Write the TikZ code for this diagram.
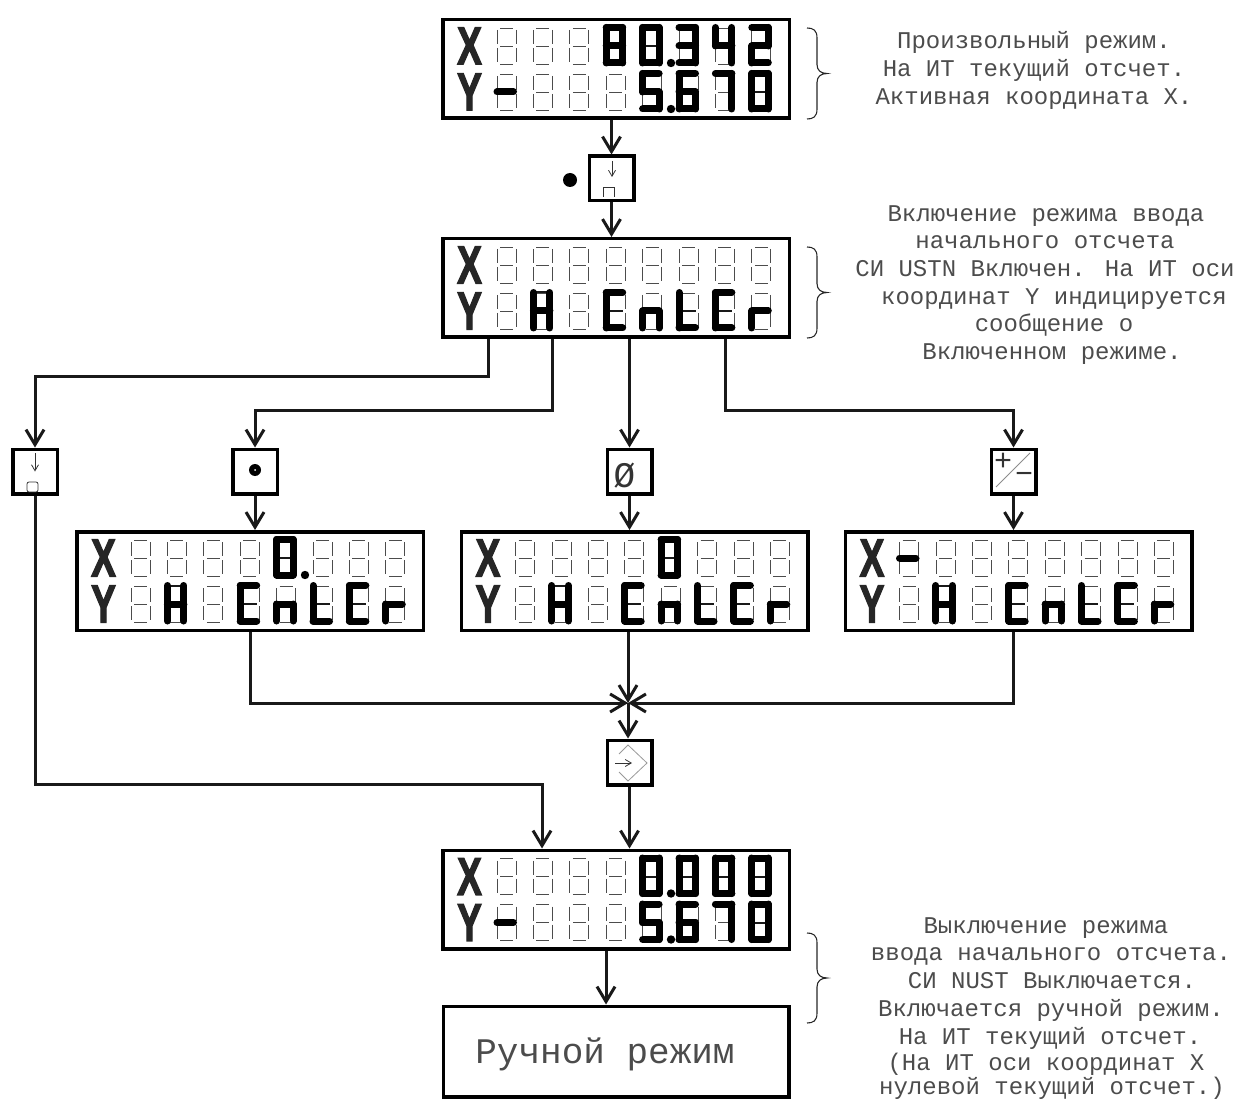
\documentclass[tikz,border=0pt]{standalone}
\usepackage{fontspec}
\usepackage{tikz}
\usetikzlibrary{arrows.meta}
\newfontfamily\pCadFont{Liberation Mono}
\newfontfamily\pAxisFont{Liberation Sans Bold}[FakeBold=3]
\tikzset{
  lcdbox/.style={draw, line width=3.5pt, minimum width=346.5pt, minimum height=98.5pt, inner sep=0pt, outer sep=1.75pt},
  keybox/.style={draw, line width=3.5pt, minimum width=44.5pt, minimum height=44.5pt, inner sep=0pt, outer sep=1.75pt},
  manualbox/.style={draw, line width=3.5pt, minimum width=345.5pt, minimum height=90.5pt, inner sep=0pt, outer sep=1.75pt},
  flow/.style={line width=3pt, black!90},
  flowtip/.style={flow, -{Straight Barb[length=15pt,width=18pt]}},
  segoff/.style={line width=0.8pt, black!70},
  segdim/.style={line width=2pt, black!90},
  segon/.style={line width=7pt, line cap=round, line join=round},
  thinkey/.style={line width=0.8pt, black!80},
  thinarrow/.style={thinkey, -{Straight Barb[length=6pt,width=7pt]}},
  notetext/.style={anchor=base, inner sep=0pt, text=black!70, font=\pCadFont\fontsize{24}{24}\selectfont},
  keytext/.style={inner sep=0pt, text=black!80, font=\pCadFont\fontsize{30}{30}\selectfont},
  axistext/.style={inner sep=0pt, text=black!85, font=\pAxisFont\fontsize{36}{36}\selectfont},
  bracket/.style={line width=1.1pt, black!85}
}
\newcommand{\pGlyphDef}[2]{\expandafter\def\csname pGlyph#1\endcsname{#2}}
\pGlyphDef{0}{1/2,2/4,4/6,6/5,5/3,3/1}
\pGlyphDef{2}{1/2,2/4,4/3,3/5,5/6}
\pGlyphDef{3}{1/2,2/4,4/6,6/5,3/4}
\pGlyphDef{4}{1/3,3/4,2/4,4/6}
\pGlyphDef{5}{1/2,1/3,3/4,4/6,6/5}
\pGlyphDef{6}{1/2,1/3,3/5,5/6,6/4,4/3}
\pGlyphDef{7}{1/2,2/4,4/6}
\pGlyphDef{8}{1/2,2/4,4/6,6/5,5/3,3/1,3/4}
\pGlyphDef{H}{1/3,3/5,2/4,4/6,3/4}
\pGlyphDef{E}{1/2,1/3,3/5,5/6}
\pGlyphDef{n}{3/4,3/5,4/6}
\pGlyphDef{t}{1/3,3/5,5/6}
\pGlyphDef{r}{3/4,3/5}
\pGlyphDef{m}{3/4}
\newcommand{\pDimDef}[2]{\expandafter\def\csname pDim#1\endcsname{#2}}
\pDimDef{0}{3/4}
\pDimDef{E}{3/4}
\pDimDef{t}{3/4}
\pDimDef{H}{1/2}
\newcommand{\pSegFrame}{(3,0) -- (16,0) (19,2) -- (19,16) (3,18) -- (16,18) (0,2) -- (0,16) (0,20) -- (0,34) (19,20) -- (19,34) (3,36) -- (16,36)}
\newcommand{\pSegRow}[4]{%
  \foreach \pIdx in {0,...,7}{
    \draw[segoff, shift={(#1+56+36.4*\pIdx,#2+#3)}] \pSegFrame;
  }
  \foreach \pIdx/\pChar in {#4}{
    \ifcsname pGlyph\pChar\endcsname
      \begin{scope}[shift={(#1+56+36.4*\pIdx,#2+#3)}]
        \coordinate (s1) at (0,-0.5);
        \coordinate (s2) at (16.5,-0.5);
        \coordinate (s3) at (0,18);
        \coordinate (s4) at (16.5,18);
        \coordinate (s5) at (0,35);
        \coordinate (s6) at (16.5,35);
        \ifcsname pDim\pChar\endcsname
          \expandafter\let\expandafter\pCurDim\csname pDim\pChar\endcsname
          \foreach \pFrom/\pTo in \pCurDim{\draw[segdim] (s\pFrom) -- (s\pTo);}
        \fi
        \expandafter\let\expandafter\pCur\csname pGlyph\pChar\endcsname
        \foreach \pFrom/\pTo in \pCur{\draw[segon] (s\pFrom) -- (s\pTo);}
      \end{scope}
    \fi
  }
}
\newcommand{\pLcd}[6]{%
  \node[lcdbox] (#1) at (#2+175,#3+51) {};
  \node[axistext] (#1X) at (#2+28.5,#3+28) {\scalebox{1.02}[1.47]{X}};
  \node[axistext] (#1Y) at (#2+28.5,#3+74) {\scalebox{1.02}[1.47]{Y}};
  \pSegRow{#2}{#3}{10}{#4}
  \pSegRow{#2}{#3}{56}{#5}
  \foreach \pIdx/\pRow in {#6}{
    \fill (#2+56+36.4*\pIdx+28.4,#3+\pRow+35) circle (4.2);
  }
}
\newcommand{\pBrace}[2]{%
  \draw[bracket] (807,#1) .. controls (813,#1) and (817,#1+2) .. (817,#1+10) -- (817,#1/2+#2/2-9) .. controls (817,#1/2+#2/2-3) and (821,#1/2+#2/2) .. (827,#1/2+#2/2) .. controls (821,#1/2+#2/2) and (817,#1/2+#2/2+3) .. (817,#1/2+#2/2+9) -- (817,#2-10) .. controls (817,#2-2) and (813,#2) .. (807,#2);
}
\begin{document}
\begin{tikzpicture}[x=1pt,y=-1pt]
\useasboundingbox (0,0) rectangle (1237,1099);
\pLcd{lcdActive}{441}{18}{3/8,4/0,5/3,6/4,7/2}{0/m,4/5,5/6,6/7,7/0}{4/10,4/56}
\pLcd{lcdInput}{441}{237}{}{1/H,3/E,4/n,5/t,6/E,7/r}{}
\pLcd{lcdPoint}{75}{530}{4/0}{1/H,3/E,4/n,5/t,6/E,7/r}{4/10}
\pLcd{lcdZero}{459.5}{530}{4/0}{1/H,3/E,4/n,5/t,6/E,7/r}{}
\pLcd{lcdSign}{843.5}{530}{0/m}{1/H,3/E,4/n,5/t,6/E,7/r}{}
\pLcd{lcdResult}{441}{848.5}{4/0,5/0,6/0,7/0}{0/m,4/5,5/6,6/7,7/0}{4/10,4/56}
\node[manualbox] (boxManual) at (616,1051.5) {};
\node[anchor=base, inner sep=0pt, text=black!70, font=\pCadFont\fontsize{36}{36}\selectfont] (txtManual) at (605,1063) {Ручной режим};
\node[keybox] (keyDown) at (611.5,178.5) {};
\node[keybox] (keyLeft) at (35,471.5) {};
\node[keybox] (keyPoint) at (255,471.5) {};
\node[keybox] (keyZero) at (629.5,471.5) {};
\node[keybox] (keySign) at (1013.5,471.5) {};
\node[keybox] (keyEnter) at (629.5,762.5) {};
\node[circle, fill, inner sep=0pt, minimum size=14pt] (dotDown) at (570,180) {};
\draw[thinarrow] ([shift={(0.5,-17.5)}]keyDown.center) -- ([shift={(0.5,-1.5)}]keyDown.center);
\draw[thinkey] ([shift={(-8.5,18.5)}]keyDown.center) -- ([shift={(-8.5,9)}]keyDown.center) -- ([shift={(2.5,9)}]keyDown.center) -- ([shift={(2.5,18.5)}]keyDown.center);
\draw[thinarrow] ([shift={(0,-18.5)}]keyLeft.center) -- ([shift={(0,0)}]keyLeft.center);
\draw[thinkey, rounded corners=2pt] ([shift={(-8,10.5)}]keyLeft.center) rectangle ([shift={(3,20.5)}]keyLeft.center);
\fill ([shift={(0,-1.5)}]keyPoint.center) circle (6);
\fill[white] ([shift={(0,-1.5)}]keyPoint.center) circle (1);
\node[keytext, font=\pCadFont\fontsize{36}{36}\selectfont] (txtZero) at (624.5,475.5) {Ø};
\draw[thinkey, black!45] ([shift={(-17.5,15.5)}]keySign.center) -- ([shift={(16.5,-18.5)}]keySign.center);
\node[keytext] (txtPlus) at (1003,462) {+};
\node[keytext] (txtMinus) at (1024,478) {−};
\draw[thinkey, black!40] ([shift={(-10.5,-8.5)}]keyEnter.center) -- ([shift={(-1.5,-17.5)}]keyEnter.center) -- ([shift={(17.5,0.5)}]keyEnter.center) -- ([shift={(-1.5,18.5)}]keyEnter.center) -- ([shift={(-10.5,9.5)}]keyEnter.center);
\draw[thinarrow] ([shift={(-14.5,0.5)}]keyEnter.center) -- ([shift={(2.5,0.5)}]keyEnter.center);
\coordinate (jn) at (628,703);
\draw[flowtip] (lcdActive.south -| keyDown.north) -- (keyDown.north);
\draw[flowtip] (keyDown.south) -- (keyDown.south |- lcdInput.north);
\draw[flowtip] ([xshift=-128pt]lcdInput.south) -- ++(0,37) -| (keyLeft.north);
\draw[flowtip] ([xshift=-64pt]lcdInput.south) -- ++(0,71) -| (keyPoint.north);
\draw[flowtip] (keyZero.north |- lcdInput.south) -- (keyZero.north);
\draw[flowtip] ([xshift=109pt]lcdInput.south) -- ++(0,71) -| (keySign.north);
\draw[flowtip] (keyPoint.south) -- (keyPoint.south |- lcdPoint.north);
\draw[flowtip] (keyZero.south) -- (keyZero.south |- lcdZero.north);
\draw[flowtip] (keySign.south) -- (keySign.south |- lcdSign.north);
\draw[flowtip] (lcdPoint.south) |- (jn);
\draw[flowtip] (lcdZero.south -| jn) -- (jn);
\draw[flowtip] (lcdSign.south -| keySign.south) |- (jn);
\draw[flowtip] (jn) -- (jn |- keyEnter.north);
\draw[flowtip] (keyEnter.south) -- (keyEnter.south |- lcdResult.north);
\draw[flowtip] (keyLeft.south) -- ++(0,289) -| ([xshift=-74pt]lcdResult.north);
\draw[flowtip] ([xshift=-10pt]lcdResult.south) -- ([xshift=-10pt]boxManual.north);
\pBrace{28}{119}
\pBrace{247}{338}
\pBrace{933}{1023}
\node[notetext] (noteA1) at (1034,48.5) {Произвольный режим.};
\node[notetext] (noteA2) at (1034,76.5) {На ИТ текущий отсчет.};
\node[notetext] (noteA3) at (1034,104.5) {Активная координата X.};
\node[notetext] (noteB1) at (1046,221.5) {Включение режима ввода};
\node[notetext] (noteB2) at (1045,248.5) {начального отсчета};
\node[notetext] (noteB3) at (1045,276.5) {СИ USTN Включен. На ИТ оси};
\node[notetext] (noteB4) at (1054,304.5) {координат Y индицируется};
\node[notetext] (noteB5) at (1054,331.5) {сообщение о};
\node[notetext] (noteB6) at (1052,359.5) {Включенном режиме.};
\node[notetext] (noteC1) at (1046,933.5) {Выключение режима};
\node[notetext] (noteC2) at (1051,960.5) {ввода начального отсчета.};
\node[notetext] (noteC3) at (1052,988.5) {СИ NUST Выключается.};
\node[notetext] (noteC4) at (1051,1016.5) {Включается ручной режим.};
\node[notetext] (noteC5) at (1050,1044) {На ИТ текущий отсчет.};
\node[notetext] (noteC6) at (1046,1070.5) {(На ИТ оси координат X};
\node[notetext] (noteC7) at (1052,1094) {нулевой текущий отсчет.)};
\end{tikzpicture}
\end{document}
